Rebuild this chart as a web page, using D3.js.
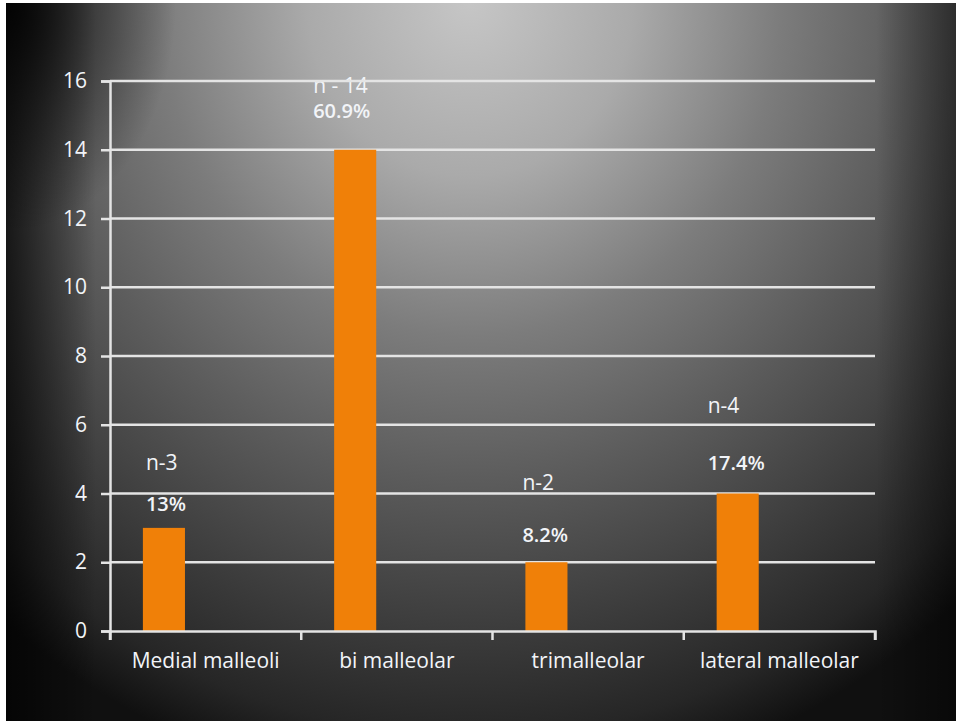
<!DOCTYPE html>
<html>
<head>
<meta charset="utf-8">
<script src="https://cdn.jsdelivr.net/npm/d3@7"></script>
<style>
  html, body { margin: 0; padding: 0; background: #ffffff; }
  svg { display: block; }
</style>
</head>
<body>
<svg id="chart" width="956" height="721"></svg>
<script>
// Ankle fracture types: patient counts and share of total
const categories = ["Medial malleoli", "bi malleolar", "trimalleolar", "lateral malleolar"];
const counts = [3, 14, 2, 4];
const countLabels = ["n-3", "n - 14", "n-2", "n-4"];
const percentLabels = ["13%", "60.9%", "8.2%", "17.4%"];
const yTicks = [0, 2, 4, 6, 8, 10, 12, 14, 16];

// free-floating label boxes: baseline gap above the bar top, and left nudge from the bar edge
const countGap = [58, 57, 72, 81];
const percentGap = [17, 32, 20, 24];
const labelShift = [3, -21, -3, -9];

const W = 956, H = 721;
const margin = { left: 110, right: 81, top: 81, bottom: 90 };

const svg = d3.select("#chart");
const defs = svg.append("defs");

// backdrop: bright spot near the top centre fading to black
const rg = defs.append("radialGradient")
  .attr("id", "bg")
  .attr("gradientUnits", "userSpaceOnUse")
  .attr("cx", 0).attr("cy", 0).attr("r", 1)
  .attr("gradientTransform", "translate(470,0) scale(740,800)");
[[0, "#c6c6c6"], [0.22, "#aaaaaa"], [0.42, "#7c7c7c"], [0.6, "#5c5c5c"],
 [0.8, "#3a3a3a"], [0.92, "#262626"], [1, "#101010"]]
  .forEach(([o, c]) => rg.append("stop").attr("offset", o).attr("stop-color", c));

const lg = defs.append("linearGradient")
  .attr("id", "leftShade")
  .attr("x1", 0).attr("x2", 1).attr("y1", 0).attr("y2", 0);
lg.append("stop").attr("offset", 0).attr("stop-color", "#000").attr("stop-opacity", 0.7);
lg.append("stop").attr("offset", 1).attr("stop-color", "#000").attr("stop-opacity", 0);

const rgShade = defs.append("linearGradient")
  .attr("id", "rightShade")
  .attr("x1", 0).attr("x2", 1).attr("y1", 0).attr("y2", 0);
rgShade.append("stop").attr("offset", 0).attr("stop-color", "#000").attr("stop-opacity", 0);
rgShade.append("stop").attr("offset", 1).attr("stop-color", "#000").attr("stop-opacity", 0.45);

const tg = defs.append("radialGradient")
  .attr("id", "cornerShade")
  .attr("gradientUnits", "userSpaceOnUse")
  .attr("cx", 0).attr("cy", 0).attr("r", 1)
  .attr("gradientTransform", "translate(6,3) scale(170,230)");
tg.append("stop").attr("offset", 0).attr("stop-color", "#000").attr("stop-opacity", 0.9);
tg.append("stop").attr("offset", 1).attr("stop-color", "#000").attr("stop-opacity", 0);

svg.append("rect").attr("x", 6).attr("y", 3).attr("width", W - 6).attr("height", H - 3)
  .attr("fill", "url(#bg)");
svg.append("rect").attr("x", 6).attr("y", 3).attr("width", 90).attr("height", H - 3)
  .attr("fill", "url(#leftShade)");
svg.append("rect").attr("x", W - 80).attr("y", 3).attr("width", 80).attr("height", H - 3)
  .attr("fill", "url(#rightShade)");
svg.append("rect").attr("x", 6).attr("y", 3).attr("width", 200).attr("height", 260)
  .attr("fill", "url(#cornerShade)");

const x = d3.scaleBand().domain(categories)
  .range([margin.left, W - margin.right]).paddingInner(0).paddingOuter(0);
const y = d3.scaleLinear().domain([0, 16]).range([H - margin.bottom, margin.top]);

const lineColor = "#e4e4e4";
const textColor = "#f2f4f8";
const font = "'Open Sans', 'Noto Sans', sans-serif";
const barOffset = x.bandwidth() * 0.172;
const barWidth = x.bandwidth() * 0.22;

// count and percentage annotations (sit beneath the gridlines)
const ann = svg.append("g").style("font-family", font).attr("fill", textColor);
ann.selectAll("text.count").data(categories).join("text")
  .attr("class", "count")
  .attr("x", (d, i) => x(d) + barOffset + labelShift[i])
  .attr("y", (d, i) => y(counts[i]) - countGap[i])
  .style("font-size", "21px")
  .text((d, i) => countLabels[i]);
ann.selectAll("text.pct").data(categories).join("text")
  .attr("class", "pct")
  .attr("x", (d, i) => x(d) + barOffset + labelShift[i])
  .attr("y", (d, i) => y(counts[i]) - percentGap[i])
  .style("font-size", "20px").style("font-weight", 600)
  .text((d, i) => percentLabels[i]);

// horizontal gridlines
svg.append("g").selectAll("line").data(yTicks.filter(t => t > 0)).join("line")
  .attr("x1", margin.left).attr("x2", W - margin.right)
  .attr("y1", d => y(d)).attr("y2", d => y(d))
  .attr("stroke", lineColor).attr("stroke-width", 2.5);

// value axis
const yAxis = svg.append("g").attr("transform", `translate(${margin.left},0)`)
  .call(d3.axisLeft(y).tickValues(yTicks).tickSize(9).tickPadding(14));
yAxis.select(".domain").attr("stroke", lineColor).attr("stroke-width", 2.5);
yAxis.selectAll(".tick line").attr("stroke", lineColor).attr("stroke-width", 2.5);
yAxis.selectAll(".tick text").attr("fill", textColor)
  .style("font-family", font).style("font-size", "21px");

// bars
svg.append("g").selectAll("rect").data(categories).join("rect")
  .attr("x", d => x(d) + barOffset)
  .attr("y", (d, i) => y(counts[i]))
  .attr("width", barWidth)
  .attr("height", (d, i) => y(0) - y(counts[i]))
  .attr("fill", "#f08008");

// category axis
const xAxis = svg.append("g").attr("transform", `translate(0,${y(0)})`)
  .call(d3.axisBottom(x).tickSize(9).tickPadding(13).tickSizeOuter(9));
xAxis.select(".domain").attr("stroke", lineColor).attr("stroke-width", 2.5);
xAxis.selectAll(".tick line").remove();
xAxis.selectAll(".sep").data(d3.range(categories.length + 1)).join("line")
  .attr("class", "sep")
  .attr("x1", i => margin.left + i * x.bandwidth()).attr("x2", i => margin.left + i * x.bandwidth())
  .attr("y1", 0).attr("y2", 9)
  .attr("stroke", lineColor).attr("stroke-width", 2.5);
xAxis.selectAll(".tick text").attr("fill", textColor)
  .style("font-family", font).style("font-size", "21px");
</script>
</body>
</html>
